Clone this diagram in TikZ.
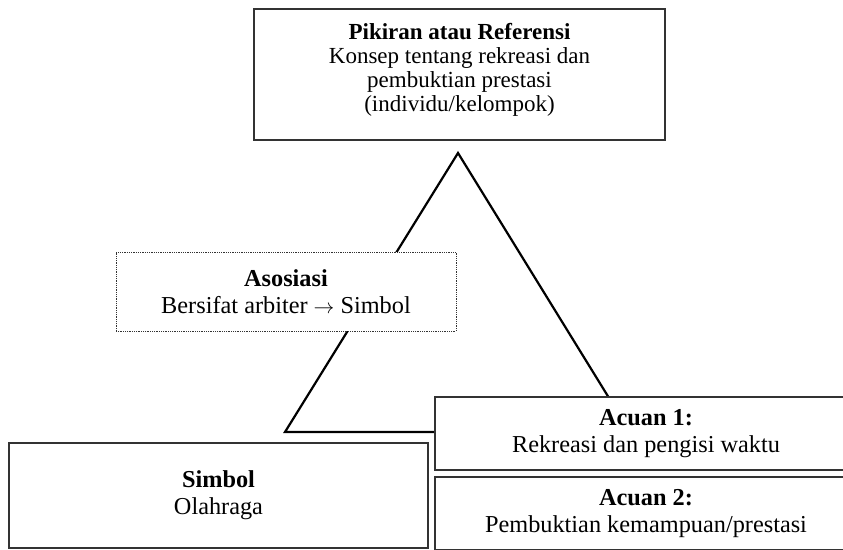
\documentclass[tikz,border=0pt]{standalone}
\usepackage{fontspec}
\setmainfont{Liberation Serif}
\begin{document}
\begin{tikzpicture}[x=1pt,y=-1pt,
  box/.style={draw=black!80,line width=1.3pt,fill=white,align=center,
    inner sep=0pt,font=\fontsize{24.3}{27}\selectfont},
  topbox/.style={box,font=\fontsize{23}{23.8}\selectfont},
  dotbox/.style={box,line width=0.9pt,dash pattern=on 0.9pt off 0.9pt},
  edge/.style={draw=black,line width=2.2pt,line join=miter}]
\useasboundingbox (0,0) rectangle (843,549);
% the triangle
\coordinate (apex) at (458,153);
\coordinate (baseL) at (285,432);
\coordinate (baseR) at (630,432);
\draw[edge] (apex) -- (baseL) -- (baseR) -- cycle;
% boxes laid over the triangle
\node[topbox,minimum width=411pt,minimum height=131pt] (ref) at (459.5,74.5)
  {\textbf{Pikiran atau Referensi}\\Konsep tentang rekreasi dan\\pembuktian prestasi\\(individu/kelompok)\\[-10pt]\mbox{}};
\node[dotbox,minimum width=340pt,minimum height=79pt] (asos) at (286,291.5)
  {\textbf{Asosiasi}\\Bersifat arbiter {\fontsize{21}{21}\selectfont$\rightarrow$} Simbol};
\node[box,minimum width=419pt,minimum height=105pt] (simbol) at (218.5,495.5)
  {\textbf{Simbol}\\Olahraga};
\node[box,minimum width=422pt,minimum height=73pt] (acuan1) at (646,433.5)
  {\textbf{Acuan 1:}\\Rekreasi dan pengisi waktu};
\node[box,minimum width=422pt,minimum height=73pt] (acuan2) at (646,513.5)
  {\textbf{Acuan 2:}\\Pembuktian kemampuan/prestasi};
\end{tikzpicture}
\end{document}
